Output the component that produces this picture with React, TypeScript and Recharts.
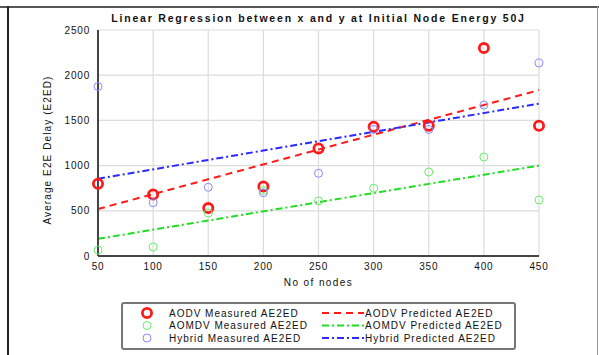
import { ComposedChart, Scatter, Line, XAxis, YAxis, CartesianGrid } from 'recharts'

const nodes = [50, 100, 150, 200, 250, 300, 350, 400, 450]
const aodvMeasured = [800, 680, 530, 770, 1190, 1430, 1440, 2300, 1440]
const aomdvMeasured = [66, 100, 475, 725, 610, 750, 930, 1095, 620]
const hybridMeasured = [1875, 590, 760, 700, 915, 1400, 1400, 1670, 2135]

const lineEnds = [50, 450]
const aodvPredicted = [520, 1835]
const aomdvPredicted = [190, 1000]
const hybridPredicted = [855, 1685]

const xTicks = [50, 100, 150, 200, 250, 300, 350, 400, 450]
const yTicks = [0, 500, 1000, 1500, 2000, 2500]

const toPoints = (xs: number[], ys: number[]) => xs.map((x, i) => ({ x, y: ys[i] }))

const series = [
  { name: 'AODV', color: '#ff1a1a', marker: 'thick', dash: '7 5', measured: aodvMeasured, predicted: aodvPredicted },
  { name: 'AOMDV', color: '#22dd22', marker: 'thin', dash: '7 3 2 3', measured: aomdvMeasured, predicted: aomdvPredicted },
  { name: 'Hybrid', color: '#2a2aff', marker: 'thin', dash: '7 3 2 3', measured: hybridMeasured, predicted: hybridPredicted },
]

const markerColor = (s: (typeof series)[number]) =>
  s.name === 'AOMDV' ? '#66ee66' : s.name === 'Hybrid' ? '#8888ff' : s.color

const font = '"Liberation Sans", Arial, sans-serif'

function Marker({ cx, cy, s }: any) {
  const thick = s.marker === 'thick'
  return (
    <circle
      cx={cx}
      cy={cy}
      r={thick ? 4.6 : 4}
      fill="none"
      stroke={markerColor(s)}
      strokeWidth={thick ? 2.8 : 1}
    />
  )
}

function ChartLegend() {
  const rows = [313, 325.5, 338]
  return (
    <svg
      width={395}
      height={48}
      style={{ position: 'absolute', left: 121, top: 302 }}
    >
      <rect x={1} y={1} width={393} height={46} rx={2} fill="#fff" stroke="#777" strokeWidth={2} />
      {series.map((s, i) => {
        const y = rows[i] - 302
        return (
          <g key={s.name} fontFamily={font} fontSize={10} letterSpacing={1} fill="#111">
            <Marker cx={26} cy={y} s={s} />
            <text x={48} y={y + 3.5}>{`${s.name} Measured AE2ED`}</text>
            <line x1={201} x2={243} y1={y} y2={y} stroke={s.color} strokeWidth={2} strokeDasharray={s.dash} />
            <text x={244} y={y + 3.5}>{`${s.name} Predicted AE2ED`}</text>
          </g>
        )
      })}
    </svg>
  )
}

export default function App() {
  return (
    <div style={{ position: 'absolute', left: 0, top: 0, width: 599, height: 355, background: '#fff', overflow: 'hidden' }}>
      <div style={{ position: 'absolute', left: 0, top: 6, width: 599, height: 2, background: '#555' }} />
      <div style={{ position: 'absolute', left: 7, top: 6, width: 2, height: 349, background: '#222' }} />
      <div style={{ position: 'absolute', left: 597, top: 6, width: 1, height: 349, background: '#999' }} />
      <div
        style={{
          position: 'absolute',
          left: 98,
          width: 441,
          top: 12,
          textAlign: 'center',
          fontFamily: font,
          fontWeight: 'bold',
          fontSize: 10.5,
          letterSpacing: 1.8,
          color: '#111',
          whiteSpace: 'nowrap',
        }}
      >
        Linear Regression between x and y at Initial Node Energy 50J
      </div>
      <div
        style={{
          position: 'absolute',
          left: 47,
          top: 150,
          transform: 'translate(-50%, -50%) rotate(-90deg)',
          fontFamily: font,
          fontSize: 10,
          letterSpacing: 1.1,
          color: '#111',
          whiteSpace: 'nowrap',
        }}
      >
        Average E2E Delay (E2ED)
      </div>
      <div
        style={{
          position: 'absolute',
          left: 98,
          width: 441,
          top: 277,
          textAlign: 'center',
          fontFamily: font,
          fontSize: 10,
          letterSpacing: 1.4,
          color: '#111',
        }}
      >
        No of nodes
      </div>
      <div style={{ position: 'absolute', left: 0, top: 0 }}>
        <ComposedChart width={599} height={355} margin={{ top: 30, right: 60, bottom: 69, left: 58 }}>
          <CartesianGrid stroke="#dcdcdc" strokeWidth={1.2} />
          <XAxis
            type="number"
            dataKey="x"
            domain={[50, 450]}
            ticks={xTicks}
            allowDuplicatedCategory={false}
            height={30}
            tickSize={0}
            tickMargin={7}
            axisLine={{ stroke: '#444', strokeWidth: 2 }}
            tick={{ fontSize: 10, fill: '#111', fontFamily: font, letterSpacing: 0.8 }}
          />
          <YAxis
            type="number"
            dataKey="y"
            domain={[0, 2500]}
            ticks={yTicks}
            width={40}
            tickSize={0}
            tickMargin={8}
            axisLine={{ stroke: '#444', strokeWidth: 2 }}
            tick={{ fontSize: 10, fill: '#111', fontFamily: font, letterSpacing: 0.8 }}
          />
          {series.map((s) => (
            <Line
              key={`${s.name}-pred`}
              data={toPoints(lineEnds, s.predicted)}
              dataKey="y"
              type="linear"
              stroke={s.color}
              strokeWidth={2}
              strokeDasharray={s.dash}
              dot={false}
              activeDot={false}
              isAnimationActive={false}
            />
          ))}
          {series.map((s) => (
            <Scatter
              key={`${s.name}-meas`}
              data={toPoints(nodes, s.measured)}
              dataKey="y"
              shape={(p: any) => <Marker cx={p.cx} cy={p.cy} s={s} />}
              isAnimationActive={false}
            />
          ))}
        </ComposedChart>
      </div>
      <ChartLegend />
    </div>
  )
}
